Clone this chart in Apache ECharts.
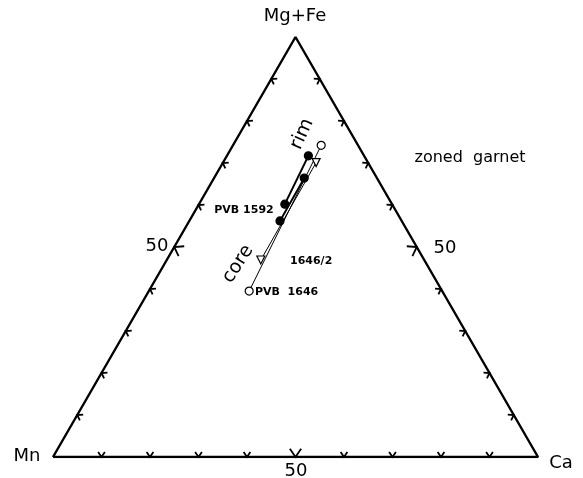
<!DOCTYPE html>
<html>
<head>
<meta charset="utf-8">
<script src="https://cdn.jsdelivr.net/npm/echarts@6/dist/echarts.min.js"></script>
<style>
  html, body { margin: 0; padding: 0; background: #fff; }
  #chart { width: 583px; height: 478px; }
</style>
</head>
<body>
<div id="chart"></div>
<script>
// ternary data, percent (Mn = 100 - MgFe - Ca)
const samples = ['PVB 1646', '1646/2', 'PVB 1592 a', 'PVB 1592 b'];
const coreMgFe = [39.5, 46.9, 60.2, 56.2];
const coreCa = [20.7, 19.4, 17.7, 18.7];
const rimMgFe = [74.2, 70.1, 71.7, 66.4];
const rimCa = [18.2, 19.2, 16.8, 18.6];
const tickSteps = [10, 20, 30, 40, 50, 60, 70, 80, 90];

// ternary -> cartesian (x along Mn-Ca, y up to Mg+Fe)
function tern(mgfe, ca) {
    return [(ca + mgfe / 2) / 100, mgfe / 100];
}

// inward normals in pixel coords for each side
const normals = [
    [0, -1],          // bottom Mn-Ca
    [0.866, 0.5],     // left Mn-MgFe
    [-0.866, 0.5],    // right Ca-MgFe
];

function getTicks() {
    const ticks = [];
    tickSteps.forEach(function (k) {
        const big = k === 50 ? 1 : 0;
        ticks.push(tern(0, k).concat([0, big]));
        ticks.push(tern(k, 0).concat([1, big]));
        ticks.push(tern(k, 100 - k).concat([2, big]));
    });
    return ticks;
}

const markers = [
    { symbol: 'circle', fill: '#fff', rotate: 0, width: 1 },
    { symbol: 'triangle', fill: '#fff', rotate: 180, width: 1 },
    { symbol: 'circle', fill: '#000', rotate: 0, width: 2 },
    { symbol: 'circle', fill: '#000', rotate: 0, width: 2 },
];

function getSeries() {
    const series = [
        {
            type: 'line',
            data: [[0, 0], [1, 0], [0.5, 1], [0, 0]],
            symbol: 'none',
            lineStyle: { color: '#000', width: 2.4 },
            silent: true,
            z: 1,
        },
        {
            type: 'custom',
            data: getTicks(),
            renderItem: function (params, api) {
                const p = api.coord([api.value(0), api.value(1)]);
                const n = normals[api.value(2)];
                const len = api.value(3) ? 10 : 6;
                const a = 0.6;
                const c = Math.cos(a), s = Math.sin(a);
                const d1 = [n[0] * c - n[1] * s, n[0] * s + n[1] * c];
                const d2 = [n[0] * c + n[1] * s, -n[0] * s + n[1] * c];
                return {
                    type: 'polyline',
                    shape: {
                        points: [
                            [p[0] + d1[0] * len, p[1] + d1[1] * len],
                            p,
                            [p[0] + d2[0] * len, p[1] + d2[1] * len],
                        ],
                    },
                    style: { stroke: '#000', lineWidth: 1.8, fill: null },
                };
            },
            silent: true,
            z: 2,
        },
    ];

    for (let i = 0; i < samples.length; i++) {
        const m = markers[i];
        series.push({
            type: 'line',
            name: samples[i],
            data: [tern(coreMgFe[i], coreCa[i]), tern(rimMgFe[i], rimCa[i])],
            symbol: m.symbol,
            symbolSize: 8,
            symbolRotate: m.rotate,
            showAllSymbol: true,
            itemStyle: { color: m.fill, borderColor: '#000', borderWidth: 1.2 },
            lineStyle: { color: '#000', width: m.width },
            z: 3,
        });
    }
    return series;
}

function txt(text, x, y, size, opts) {
    opts = opts || {};
    return {
        type: 'text',
        x: x,
        y: y,
        rotation: opts.rotation || 0,
        style: {
            text: text,
            fill: '#000',
            font: (opts.bold ? 'bold ' : '500 ') + size + 'px "DejaVu Sans", sans-serif',
            align: opts.align || 'center',
            verticalAlign: 'middle',
        },
        z: 10,
    };
}

const chart = echarts.init(document.getElementById('chart'));
chart.setOption({
    animation: false,
    backgroundColor: '#fff',
    grid: { left: 53, top: 37, width: 485, height: 420, show: false },
    xAxis: { type: 'value', min: 0, max: 1, show: false },
    yAxis: { type: 'value', min: 0, max: 1, show: false },
    series: getSeries(),
    graphic: [
        txt('Mg+Fe', 295, 16, 18),
        txt('Mn', 27, 456, 18),
        txt('Ca', 561, 463, 18),
        txt('50', 296, 471, 18),
        txt('50', 157, 246, 18),
        txt('50', 445, 248, 18),
        txt('zoned  garnet', 470, 158, 16),
        txt('rim', 302, 134, 19, { rotation: 1.15 }),
        txt('core', 238, 264, 19, { rotation: 1.0 }),
        txt('PVB 1592', 244, 210, 11, { bold: true }),
        txt('1646/2', 290, 261, 11, { bold: true, align: 'left' }),
        txt('PVB  1646', 255, 292, 11, { bold: true, align: 'left' }),
    ],
});
</script>
</body>
</html>
